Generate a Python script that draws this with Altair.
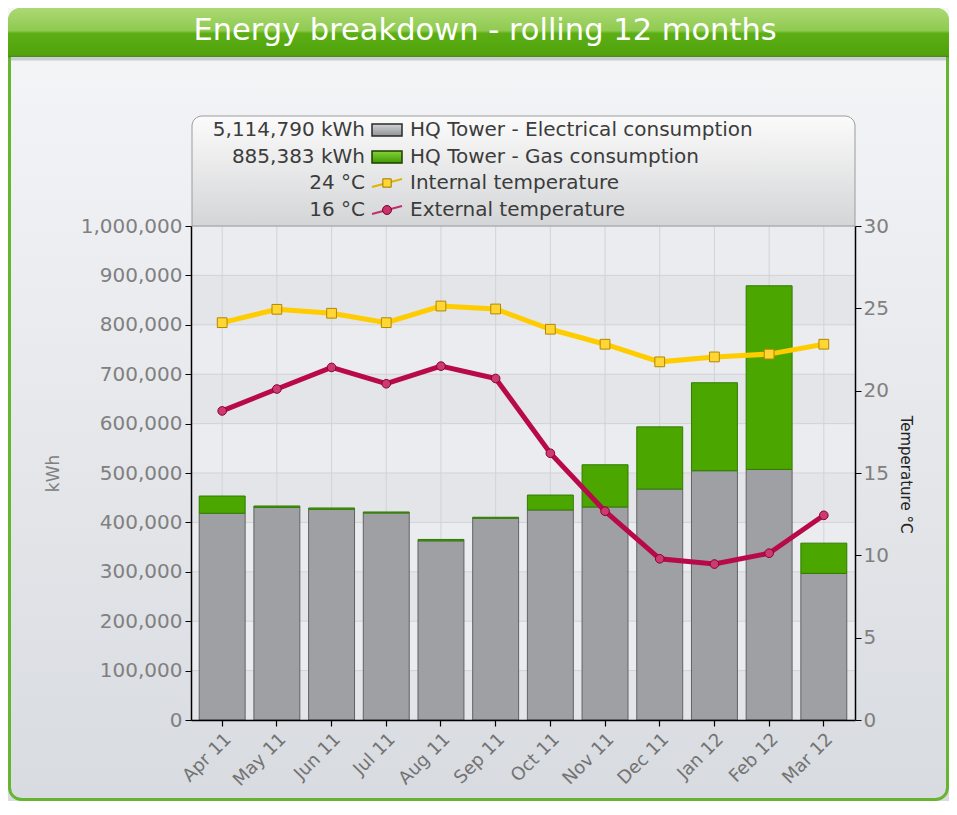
import altair as alt
import pandas as pd

# ---------------- data ----------------
months = ["Apr 11", "May 11", "Jun 11", "Jul 11", "Aug 11", "Sep 11",
          "Oct 11", "Nov 11", "Dec 11", "Jan 12", "Feb 12", "Mar 12"]
elec = [418500, 430600, 426600, 419100, 362700, 408400,
        425200, 431200, 467500, 504600, 507300, 296800]
gas = [34900, 2600, 2600, 2000, 2800, 2000,
       30200, 85500, 125900, 178100, 371700, 61200]
t_int = [24.13, 24.94, 24.70, 24.13, 25.14, 24.96,
         23.73, 22.82, 21.75, 22.05, 22.22, 22.82]
t_ext = [18.77, 20.10, 21.41, 20.42, 21.49, 20.74,
         16.20, 12.68, 9.79, 9.47, 10.13, 12.43]
series_names = ["HQ Tower - Electrical consumption", "HQ Tower - Gas consumption",
                "Internal temperature", "External temperature"]
legend_values = ["5,114,790 kWh", "885,383 kWh", "24 °C", "16 °C"]
kwh_ticks = [0, 100000, 200000, 300000, 400000, 500000,
             600000, 700000, 800000, 900000, 1000000]
temp_ticks = [0, 5, 10, 15, 20, 25, 30]
title_text = "Energy breakdown - rolling 12 months"

# ---------------- layout ----------------
W, H = 664, 494
PAD = {"left": 183, "top": 218, "right": 94, "bottom": 81}
FONT = "DejaVu Sans"
RX = W + PAD["right"]          # right edge of canvas, relative to plot origin
BY = H + PAD["bottom"]         # bottom edge of canvas, relative to plot origin

bar_df = pd.DataFrame({
    "month": months * 2,
    "series": [series_names[0]] * 12 + [series_names[1]] * 12,
    "kwh": elec + gas,
    "ord": [0] * 12 + [1] * 12,
})
int_df = pd.DataFrame({"month": months, "temp": t_int})
ext_df = pd.DataFrame({"month": months, "temp": t_ext})
hgrid_df = pd.DataFrame({"v": kwh_ticks})
band_df = pd.DataFrame({"lo": kwh_ticks[0:10:2], "hi": kwh_ticks[1:11:2]})
month_df = pd.DataFrame({"month": months})
dummy = pd.DataFrame({"d": [0]})

x_scale = alt.Scale(type="band", paddingInner=0.16, paddingOuter=0.15)
x_axis = alt.Axis(title=None, labelAngle=-45, labelFont=FONT, labelFontSize=18,
                  labelColor="#737373", domainColor="#000000", domainWidth=1.5,
                  tickColor="#000000", tickSize=6, tickWidth=1.2, grid=False,
                  zindex=1, labelPadding=4)


def xenc(center=True):
    if center:
        return alt.X("month:N", sort=months, scale=x_scale, axis=x_axis, bandPosition=0.5)
    return alt.X("month:N", sort=months, scale=x_scale, axis=x_axis)


kwh_scale = alt.Scale(domain=[0, 1000000], nice=False)
temp_scale = alt.Scale(domain=[0, 30], nice=False)

left_axis = alt.Axis(orient="left", values=kwh_ticks, format=",d", labelFont=FONT,
                     labelFontSize=20, labelColor="#808080", domainColor="#000000",
                     domainWidth=1.5, tickColor="#000000", tickSize=6, labelPadding=3,
                     grid=False, zindex=1, title="kWh", titleFont=FONT, titleFontSize=17,
                     titleFontWeight="normal", titleColor="#808080", titleX=-138,
                     titleY=247, titleAngle=270, titleAlign="center",
                     titleBaseline="middle")
right_axis = alt.Axis(orient="right", values=temp_ticks, labelFont=FONT,
                      labelFontSize=20, labelColor="#808080", domainColor="#000000",
                      domainWidth=1.5, tickColor="#000000", tickSize=6, labelPadding=2,
                      grid=False, zindex=1, title="Temperature °C", titleFont=FONT,
                      titleFontSize=15, titleFontWeight="normal", titleColor="#222222",
                      titleX=50, titleY=248, titleAngle=90, titleAlign="center",
                      titleBaseline="middle")


def grad(stops):
    return alt.Gradient(gradient="linear", x1=0, x2=0, y1=0, y2=1,
                        stops=[alt.GradientStop(offset=o, color=c) for o, c in stops])


def box(x, x2, y, y2, **kw):
    return alt.Chart(dummy).mark_rect(**kw).encode(
        x=alt.value(x), x2=alt.value(x2), y=alt.value(y), y2=alt.value(y2))


# body background
body_bg = box(-PAD["left"], RX, -PAD["top"], BY,
              fill=grad([(0, "#f5f6f8"), (1, "#d8dbe0")]))

# plot area background and alternating bands
plot_bg = box(0, W, 0, H, fill="#eaecef")
bands = alt.Chart(band_df).mark_rect(fill="#e3e5e8").encode(
    x=alt.value(0), x2=alt.value(W),
    y=alt.Y("lo:Q", scale=kwh_scale, axis=None), y2="hi:Q")

hgrid = alt.Chart(hgrid_df).mark_rule(color="#d2d3d6", strokeWidth=1).encode(
    y=alt.Y("v:Q", scale=kwh_scale, axis=None), x=alt.value(0), x2=alt.value(W))
vgrid = alt.Chart(month_df).mark_rule(color="#d2d3d6", strokeWidth=1).encode(
    x=xenc(), y=alt.value(0), y2=alt.value(H))

bars = alt.Chart(bar_df).mark_bar(strokeWidth=1).encode(
    x=xenc(False),
    y=alt.Y("kwh:Q", stack="zero", scale=kwh_scale, axis=left_axis),
    color=alt.Color("series:N", scale=alt.Scale(domain=series_names[:2],
                    range=["#9fa0a4", "#4ca600"]), legend=None),
    stroke=alt.Stroke("series:N", scale=alt.Scale(domain=series_names[:2],
                      range=["#626262", "#2f7d00"]), legend=None),
    order=alt.Order("ord:Q"),
)

int_line = alt.Chart(int_df).mark_line(color="#ffcc00", strokeWidth=5).encode(
    x=xenc(), y=alt.Y("temp:Q", scale=temp_scale, axis=right_axis))
int_pts = alt.Chart(int_df).mark_point(shape="square", filled=True, size=95,
                                       fill="#ffd633", stroke="#b38600",
                                       strokeWidth=1, opacity=1).encode(
    x=xenc(), y=alt.Y("temp:Q", scale=temp_scale, axis=None))
ext_line = alt.Chart(ext_df).mark_line(color="#b80a4b", strokeWidth=5).encode(
    x=xenc(), y=alt.Y("temp:Q", scale=temp_scale, axis=None))
ext_pts = alt.Chart(ext_df).mark_point(shape="circle", filled=True, size=75,
                                       fill="#cc3b6e", stroke="#8a0035",
                                       strokeWidth=1, opacity=1).encode(
    x=xenc(), y=alt.Y("temp:Q", scale=temp_scale, axis=None))

# legend box
legend_box = box(1, W, -110, 0, fill=grad([(0, "#fbfbfb"), (1, "#d4d5d7")]),
                 stroke="#9b9b9b", strokeWidth=1,
                 cornerRadiusTopLeft=10, cornerRadiusTopRight=10)
row_y = [-96, -69, -43, -16]
legend_layers = [legend_box]
for i in range(4):
    legend_layers.append(alt.Chart(dummy).mark_text(
        align="right", baseline="middle", font=FONT, fontSize=20, color="#3c3c3c").encode(
        x=alt.value(174), y=alt.value(row_y[i]), text=alt.value(legend_values[i])))
    legend_layers.append(alt.Chart(dummy).mark_text(
        align="left", baseline="middle", font=FONT, fontSize=20, color="#3c3c3c").encode(
        x=alt.value(219), y=alt.value(row_y[i]), text=alt.value(series_names[i])))
legend_layers.append(box(181, 211, row_y[0] - 6, row_y[0] + 6,
                         fill=grad([(0, "#d3d4d7"), (1, "#919297")]),
                         stroke="#2a2a2a", strokeWidth=1.5))
legend_layers.append(box(181, 211, row_y[1] - 6, row_y[1] + 6,
                         fill=grad([(0, "#86d23a"), (1, "#3f9a00")]),
                         stroke="#1e3d00", strokeWidth=1.5))
legend_layers.append(alt.Chart(dummy).mark_rule(color="#e0b400", strokeWidth=2).encode(
    x=alt.value(181), x2=alt.value(211), y=alt.value(row_y[2] + 4), y2=alt.value(row_y[2] - 4)))
legend_layers.append(alt.Chart(dummy).mark_point(shape="square", filled=True, size=70,
                                                 fill="#ffd633", stroke="#a07800",
                                                 strokeWidth=1, opacity=1).encode(
    x=alt.value(196), y=alt.value(row_y[2])))
legend_layers.append(alt.Chart(dummy).mark_rule(color="#c0306a", strokeWidth=2).encode(
    x=alt.value(181), x2=alt.value(211), y=alt.value(row_y[3] + 4), y2=alt.value(row_y[3] - 4)))
legend_layers.append(alt.Chart(dummy).mark_point(shape="circle", filled=True, size=80,
                                                 fill="#c8336a", stroke="#7a0030",
                                                 strokeWidth=1, opacity=1).encode(
    x=alt.value(196), y=alt.value(row_y[3])))

# frame and title bar
frame = box(-PAD["left"] + 1.5, RX - 1.5, -PAD["top"] + 1.5, BY - 1.5, fillOpacity=0,
            stroke="#66b530", strokeWidth=3, cornerRadius=12)
title_bar = box(-PAD["left"], RX, -PAD["top"], -170,
                fill=grad([(0, "#acd974"), (0.47, "#8fca50"),
                           (0.53, "#5cae14"), (1, "#4fa20b")]),
                cornerRadiusTopLeft=12, cornerRadiusTopRight=12)
title_line = alt.Chart(dummy).mark_rule(color="#4a8d1c", strokeWidth=1.5).encode(
    x=alt.value(-PAD["left"]), x2=alt.value(RX), y=alt.value(-169.5))
title_shadow = alt.Chart(dummy).mark_rule(color="#c9ccd1", strokeWidth=3).encode(
    x=alt.value(-PAD["left"] + 3), x2=alt.value(RX - 3), y=alt.value(-167))
title = alt.Chart(dummy).mark_text(align="center", baseline="middle", font=FONT,
                                   fontSize=30.5, color="#ffffff").encode(
    x=alt.value(294), y=alt.value(-195), text=alt.value(title_text))

chart = alt.layer(
    body_bg, plot_bg, bands, hgrid, vgrid, bars,
    int_line, ext_line, int_pts, ext_pts,
    *legend_layers,
    frame, title_bar, title_line, title_shadow, title,
).resolve_scale(y="independent").properties(
    width=W, height=H, padding=PAD, autosize="none"
).configure(background="#e6e8eb").configure_view(stroke=None)

chart.save("out.html", embed_options={"renderer": "svg", "actions": False})
